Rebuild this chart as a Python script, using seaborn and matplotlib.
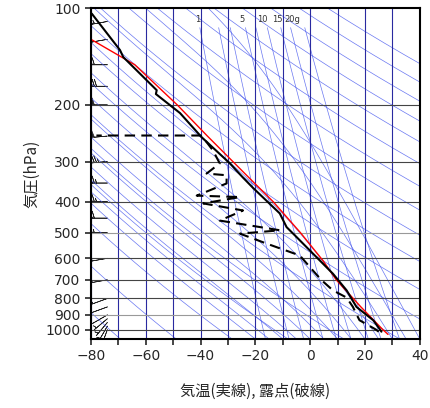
import numpy as np
import matplotlib
matplotlib.use("Agg")
import matplotlib.pyplot as plt
import seaborn as sns

# sounding
T_P = [1015, 1000, 935, 850, 755, 670, 580, 515, 480, 435, 362, 336, 304, 252, 212, 185, 180, 142, 135, 104]
T_C = [26.0, 25.5, 23.0, 16.9, 13.3, 8.3, 1.0, -5.0, -8.6, -11.1, -20.9, -24.6, -29.3, -39.6, -47.5, -56.3, -56.0, -68.2, -69.4, -79.7]

TD_P = [1015, 1000, 935, 900, 850, 795, 755, 700, 655, 588, 540, 503, 491, 458, 426, 405, 387, 383, 351, 331, 327, 304, 277, 261, 249, 249]
TD_C = [25.0, 24.0, 18.0, 17.0, 15.6, 13.3, 8.3, 4.0, 1.0, -3.8, -15.9, -25.6, -11.0, -33.0, -24.5, -39.0, -25.6, -41.4, -30.5, -30.5, -37.8, -33.0, -35.5, -37.8, -40.0, -78.0]

PARCEL_P = [1035, 1000, 850, 700, 609, 500, 400, 339, 250, 200, 150, 125]
PARCEL_C = [28.4, 26.5, 18.5, 9.5, 4.6, -3.5, -13.5, -22.0, -37.5, -48.5, -64.0, -80.0]

WIND_P = [1000, 975, 950, 925, 900, 850, 800, 700, 600, 500, 450, 400, 350, 300, 250, 200, 175, 150, 125, 110]
WIND_SPD = [5, 5, 5, 5, 10, 10, 15, 15, 20, 25, 30, 35, 35, 45, 50, 50, 40, 30, 20, 25]
WIND_DIR = [200, 210, 220, 230, 240, 250, 250, 260, 260, 270, 270, 270, 270, 265, 265, 270, 270, 270, 260, 260]

MIX_RATIOS = [1, 2, 3, 5, 7, 10, 15, 20, 30]
MIX_LABELS = ["1", "", "", "5", "", "10", "15", "20g", ""]
MIX_LABEL_X = [-41, None, None, -25, None, -17.5, -12, -6.5, None]

sns.set_theme(style="white")
plt.rcParams["font.family"] = ["Noto Sans CJK JP", "DejaVu Sans"]

fig = plt.figure(figsize=(4.31, 4.08), dpi=100)
ax = fig.add_axes([0.211, 0.169, 0.763, 0.811])
ax.set_yscale("log")
ax.set_xlim(-80, 40)
ax.set_ylim(1070, 100)

p = np.logspace(np.log10(100), np.log10(1070), 200)
blue = "#4455ee"
# dry adiabats
for theta in range(200, 560, 20):
    ax.plot(theta * (p / 1000) ** 0.286 - 273.15, p, color=blue, lw=0.5, alpha=0.8)


def es(t):
    return 6.112 * np.exp(17.67 * t / (t + 243.5))


# moist adiabats
Rd, cp, Lv, eps = 287.0, 1004.0, 2.5e6, 0.622
pm = np.linspace(1070, 100, 400)
for t0 in range(-20, 44, 5):
    T = t0 + 273.15
    Ts = []
    for i, pp in enumerate(pm):
        Ts.append(T)
        if i + 1 < len(pm):
            rs = eps * es(T - 273.15) / (pp - es(T - 273.15))
            dTdp = (Rd * T + Lv * rs) / (cp + Lv ** 2 * rs * eps / (Rd * T ** 2)) / pp
            T += dTdp * (pm[i + 1] - pp)
    ax.plot(np.array(Ts) - 273.15, pm, color=blue, lw=0.5, alpha=0.8)

# mixing ratio lines
pw = np.logspace(np.log10(115), np.log10(1070), 100)
for w, lab, lx in zip(MIX_RATIOS, MIX_LABELS, MIX_LABEL_X):
    e = w * pw / (622 + w)
    lnr = np.log(e / 6.112)
    t = 243.5 * lnr / (17.67 - lnr)
    ax.plot(t, pw, color=blue, lw=0.5, alpha=0.8)
    if lab:
        ax.text(lx, 112, lab, fontsize=6, color="#333333", ha="center", va="bottom", family="DejaVu Sans")

# grid
for x in range(-80, 41, 10):
    ax.axvline(x, color="#2a2aa0", lw=0.8)
for y in range(200, 1001, 100):
    ax.axhline(y, color="#999999" if y in (500, 900) else "#444444", lw=0.8)

ax.plot(PARCEL_C, PARCEL_P, color="red", lw=1.0)
ax.plot(TD_C, TD_P, color="black", lw=1.5, ls=(0, (5, 3)))
ax.plot(T_C, T_P, color="black", lw=1.5)

d = np.deg2rad(WIND_DIR)
u = -np.array(WIND_SPD) * np.sin(d)
v = -np.array(WIND_SPD) * np.cos(d)
ax.barbs(np.full(len(WIND_P), -74.0), WIND_P, u, v, length=5, lw=0.5, color="#222222")

ax.set_yticks(range(100, 1001, 100))
ax.set_yticklabels([str(v) for v in range(100, 1001, 100)], family="DejaVu Sans")
ax.yaxis.set_minor_locator(matplotlib.ticker.NullLocator())
ax.set_xticks(range(-80, 41, 20))
ax.set_xticks(range(-80, 41, 10), minor=True)
ax.tick_params(axis="both", which="both", direction="out", length=4, width=1.2, labelsize=10, left=True, bottom=True)
for lab in ax.get_xticklabels():
    lab.set_family("DejaVu Sans")
for s in ax.spines.values():
    s.set_linewidth(1.5)
    s.set_color("black")
ax.set_ylabel("気圧(hPa)", fontsize=11)
ax.set_xlabel("気温(実線), 露点(破線)", fontsize=11, labelpad=14)
fig.savefig("out.png", dpi=100)
